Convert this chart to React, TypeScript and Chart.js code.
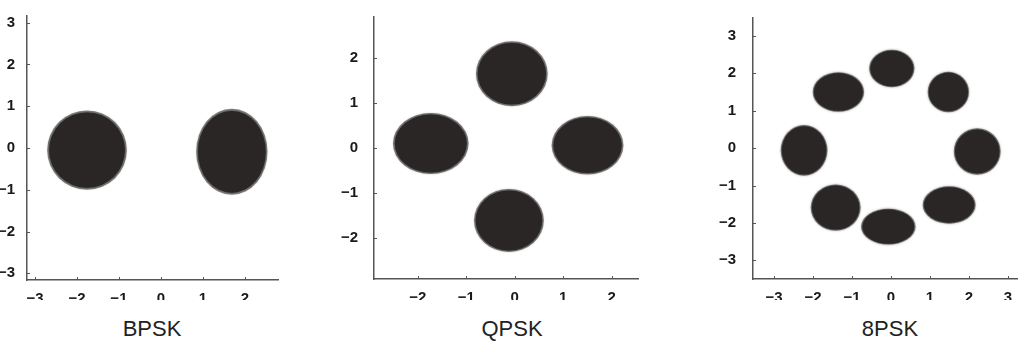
import React, { useEffect, useRef } from "react";
import { Chart, registerables } from "chart.js";

Chart.register(...registerables);

// ---- BPSK ----
const BPSK_CX = [-1.76, 1.69];
const BPSK_CY = [-0.05, -0.09];
const BPSK_RX = [0.95, 0.85];
const BPSK_RY = [0.95, 1.03];
const BPSK_XTICKS = [-3, -2, -1, 0, 1, 2];
const BPSK_YTICKS = [-3, -2, -1, 0, 1, 2, 3];

// ---- QPSK ----
const QPSK_CX = [-0.06, -1.73, 1.5, -0.12];
const QPSK_CY = [1.64, 0.09, 0.05, -1.62];
const QPSK_RX = [0.74, 0.78, 0.74, 0.72];
const QPSK_RY = [0.72, 0.68, 0.65, 0.7];
const QPSK_XTICKS = [-2, -1, 0, 1, 2];
const QPSK_YTICKS = [-2, -1, 0, 1, 2];

// ---- 8PSK ----
const PSK8_CX = [0.02, 1.47, 2.21, 1.49, -0.07, -1.42, -2.23, -1.35];
const PSK8_CY = [2.13, 1.5, -0.09, -1.52, -2.1, -1.59, -0.06, 1.5];
const PSK8_RX = [0.58, 0.53, 0.6, 0.68, 0.7, 0.64, 0.6, 0.66];
const PSK8_RY = [0.5, 0.54, 0.62, 0.5, 0.48, 0.62, 0.68, 0.53];
const PSK8_XTICKS = [-3, -2, -1, 0, 1, 2, 3];
const PSK8_YTICKS = [-3, -2, -1, 0, 1, 2, 3];

const TICK_FONT = "'Liberation Sans Narrow', 'Liberation Sans', Arial, sans-serif";

const cloudPlugin = {
  id: "cloud",
  afterDatasetsDraw(chart: any) {
    const ctx = chart.ctx;
    const xs = chart.scales.x;
    const ys = chart.scales.y;
    chart.data.datasets.forEach((ds: any, di: number) => {
      const meta = chart.getDatasetMeta(di);
      meta.data.forEach((el: any, i: number) => {
        const p = ds.data[i];
        const rx = Math.abs(xs.getPixelForValue(p.x + p.rx) - el.x);
        const ry = Math.abs(ys.getPixelForValue(p.y + p.ry) - el.y);
        ctx.save();
        ctx.fillStyle = "rgba(38,34,34,0.55)";
        ctx.beginPath();
        ctx.ellipse(el.x, el.y, rx, ry, 0, 0, Math.PI * 2);
        ctx.fill();
        ctx.shadowColor = "rgba(30,28,28,0.9)";
        ctx.shadowBlur = 3;
        ctx.fillStyle = "#2a2626";
        ctx.beginPath();
        ctx.ellipse(el.x, el.y, rx * 0.95, ry * 0.95, 0, 0, Math.PI * 2);
        ctx.fill();
        ctx.restore();
      });
    });
  },
};

const innerTicksPlugin = {
  id: "innerTicks",
  afterDraw(chart: any) {
    const ctx = chart.ctx;
    const xs = chart.scales.x;
    const ys = chart.scales.y;
    const a = chart.chartArea;
    ctx.save();
    ctx.strokeStyle = "#555";
    ctx.lineWidth = 1;
    ctx.beginPath();
    xs.ticks.forEach((t: any) => {
      const px = Math.round(xs.getPixelForValue(t.value)) + 0.5;
      ctx.moveTo(px, a.bottom);
      ctx.lineTo(px, a.bottom - 3);
    });
    ys.ticks.forEach((t: any) => {
      const py = Math.round(ys.getPixelForValue(t.value)) + 0.5;
      ctx.moveTo(a.left, py);
      ctx.lineTo(a.left + 3, py);
    });
    ctx.stroke();
    ctx.restore();
  },
};

const fmt = (v: any) => (Number(v) < 0 ? "\u2212" + Math.abs(Number(v)) : String(v));

type PanelProps = {
  left: number;
  width: number;
  height: number;
  yAxisWidth: number;
  xAxisHeight: number;
  padTop: number;
  padRight: number;
  xMin: number;
  xMax: number;
  yMin: number;
  yMax: number;
  cx: number[];
  cy: number[];
  rx: number[];
  ry: number[];
  xTicks: number[];
  yTicks: number[];
  yPad: number;
};

function Panel(p: PanelProps) {
  const ref = useRef<HTMLCanvasElement | null>(null);
  useEffect(() => {
    if (!ref.current) return;
    const data = p.cx.map((x, i) => ({ x, y: p.cy[i], rx: p.rx[i], ry: p.ry[i] }));
    const chart = new Chart(ref.current, {
      type: "scatter",
      data: {
        datasets: [
          {
            data,
            pointRadius: 0,
            pointHoverRadius: 0,
            backgroundColor: "#2a2626",
          } as any,
        ],
      },
      plugins: [cloudPlugin, innerTicksPlugin],
      options: {
        animation: false,
        responsive: false,
        devicePixelRatio: 1,
        events: [],
        layout: { padding: { top: p.padTop, right: p.padRight, left: 0, bottom: 0 } },
        plugins: { legend: { display: false }, tooltip: { enabled: false } },
        scales: {
          x: {
            type: "linear",
            min: p.xMin,
            max: p.xMax,
            grid: { display: false },
            border: { display: true, color: "#555", width: 1.5 },
            afterBuildTicks: (s: any) => {
              s.ticks = p.xTicks.map((v) => ({ value: v }));
            },
            afterFit: (s: any) => {
              s.height = p.xAxisHeight;
            },
            ticks: {
              color: "#1a1a1a",
              padding: 2,
              maxRotation: 0,
              autoSkip: false,
              font: { family: TICK_FONT, size: 15, weight: "bold" },
              callback: fmt,
            },
          },
          y: {
            type: "linear",
            min: p.yMin,
            max: p.yMax,
            grid: { display: false },
            border: { display: true, color: "#555", width: 1.5 },
            afterBuildTicks: (s: any) => {
              s.ticks = p.yTicks.map((v) => ({ value: v }));
            },
            afterFit: (s: any) => {
              s.width = p.yAxisWidth;
            },
            ticks: {
              color: "#1a1a1a",
              padding: p.yPad,
              autoSkip: false,
              font: { family: TICK_FONT, size: 15, weight: "bold" },
              callback: fmt,
            },
          },
        },
      } as any,
    });
    return () => chart.destroy();
  }, []);
  return (
    <canvas
      ref={ref}
      width={p.width}
      height={p.height}
      style={{ position: "absolute", left: p.left, top: 0, width: p.width, height: p.height }}
    />
  );
}

const labelStyle = (center: number): React.CSSProperties => ({
  position: "absolute",
  left: center - 60,
  width: 120,
  top: 318,
  textAlign: "center",
  fontFamily: "'Liberation Sans', Arial, sans-serif",
  fontSize: 22,
  lineHeight: "22px",
  color: "#222",
});

export default function App() {
  return (
    <div
      style={{
        position: "absolute",
        left: 0,
        top: 0,
        width: 1018,
        height: 343,
        background: "#fff",
        overflow: "hidden",
      }}
    >
      <Panel
        left={0}
        width={290}
        height={300}
        yAxisWidth={27}
        xAxisHeight={20}
        padTop={16}
        padRight={12}
        xMin={-3.19}
        xMax={2.79}
        yMin={-3.16}
        yMax={3.16}
        cx={BPSK_CX}
        cy={BPSK_CY}
        rx={BPSK_RX}
        ry={BPSK_RY}
        xTicks={BPSK_XTICKS}
        yTicks={BPSK_YTICKS}
        yPad={4}
      />
      <Panel
        left={330}
        width={320}
        height={300}
        yAxisWidth={44}
        xAxisHeight={21}
        padTop={10}
        padRight={12}
        xMin={-2.9}
        xMax={2.54}
        yMin={-2.92}
        yMax={2.9}
        cx={QPSK_CX}
        cy={QPSK_CY}
        rx={QPSK_RX}
        ry={QPSK_RY}
        xTicks={QPSK_XTICKS}
        yTicks={QPSK_YTICKS}
        yPad={8}
      />
      <Panel
        left={700}
        width={318}
        height={300}
        yAxisWidth={53}
        xAxisHeight={21}
        padTop={8}
        padRight={1}
        xMin={-3.54}
        xMax={3.23}
        yMin={-3.5}
        yMax={3.48}
        cx={PSK8_CX}
        cy={PSK8_CY}
        rx={PSK8_RX}
        ry={PSK8_RY}
        xTicks={PSK8_XTICKS}
        yTicks={PSK8_YTICKS}
        yPad={9}
      />
      <div style={labelStyle(152)}>BPSK</div>
      <div style={labelStyle(512)}>QPSK</div>
      <div style={labelStyle(890)}>8PSK</div>
    </div>
  );
}
